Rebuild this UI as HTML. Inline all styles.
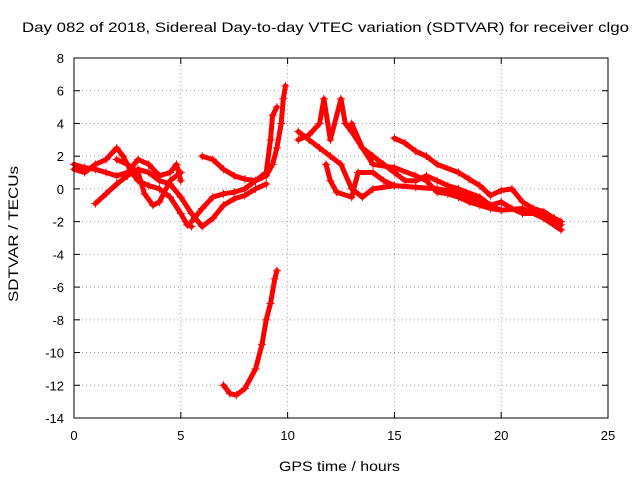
<!DOCTYPE html>
<html><head><meta charset="utf-8"><style>
body{margin:0;background:#fff}
svg{font-family:"Liberation Sans",Arial,sans-serif;}
</style></head><body>
<svg id="chart" width="640" height="480" viewBox="0 0 640 480" xmlns="http://www.w3.org/2000/svg">
<text x="22" y="32" font-size="14" textLength="607" lengthAdjust="spacingAndGlyphs">Day 082 of 2018, Sidereal Day-to-day VTEC variation (SDTVAR) for receiver clgo</text>
<text x="279" y="471" font-size="14" textLength="121" lengthAdjust="spacingAndGlyphs">GPS time / hours</text>
<text transform="translate(18,302) rotate(-90)" font-size="14" textLength="136" lengthAdjust="spacingAndGlyphs">SDTVAR / TECUs</text>
<g id="grid"></g>
<g id="ticks"></g>
<g id="series"></g>
<rect x="74" y="58" width="534" height="360" fill="none" stroke="#000" stroke-width="1"/>
</svg>
<script>
const xTicks=[0,5,10,15,20,25];
const yTicks=[8,6,4,2,0,-2,-4,-6,-8,-10,-12,-14];
const trackA=[[0,1.2],[0.5,1.0],[1,1.5],[1.5,1.8],[2,2.5],[2.3,2.0],[2.7,1.0],[3,0.5],[3.5,0.2],[4,0.0],[4.5,-0.5],[5,-1.5],[5.3,-2.2],[5.5,-2.3]];
const trackB=[[0,1.5],[0.5,1.3],[1,1.2],[1.5,1.0],[2,0.8],[2.5,1.0],[3,1.8],[3.5,1.5],[4,0.8],[4.5,1.0],[4.8,1.5],[5,0.5]];
const trackC=[[1,-0.9],[1.5,-0.3],[2,0.3],[2.5,0.8],[3,1.2],[3.5,1.0],[4,0.5],[4.5,0.3],[5,-0.5],[5.5,-1.5],[6,-2.3],[6.5,-1.8],[7,-1.0],[7.5,-0.6],[8,-0.4],[8.5,0.0],[9,0.3]];
const trackD=[[2,1.8],[2.5,1.5],[3,1.0],[3.3,-0.3],[3.7,-1.0],[4,-0.8],[4.5,0.5],[5,1.0]];
const trackE=[[5.5,-2.0],[6,-1.2],[6.5,-0.5],[7,-0.3],[7.5,-0.2],[8,0.0],[8.5,0.5],[9,0.8],[9.3,1.5],[9.5,2.5],[9.7,4.0],[9.8,5.5],[9.9,6.3]];
const trackF=[[6,2.0],[6.5,1.8],[7,1.2],[7.5,0.8],[8,0.6],[8.5,0.5],[9,1.0],[9.2,3.0],[9.3,4.5],[9.5,5.0]];
const trackG=[[7,-12.0],[7.3,-12.5],[7.6,-12.6],[8,-12.2],[8.5,-11.0],[8.8,-9.5],[9,-8],[9.2,-7],[9.4,-5.5],[9.5,-5.0]];
const trackH=[[10.5,3.5],[11,3.0],[11.5,2.5],[12,2.0],[12.5,1.5],[13,0.0],[13.5,-0.5],[14,0.0],[15,0.2],[16,0.1],[17,0.0],[18,-0.2],[19,-0.8],[20,-1.3],[21,-1.2],[22,-1.8],[22.8,-2.5]];
const trackI=[[10.5,3.0],[11,3.3],[11.5,4.0],[11.7,5.5],[12,3.0],[12.5,5.5],[12.7,4.0],[13,3.5],[13.5,2.5],[14,2.0],[14.5,1.5],[15,1.0],[15.5,0.5],[16,0.5],[16.5,0.8],[17,0.5],[17.5,0.2],[18,0.0],[19,-0.5],[19.5,-1.0],[20,-0.8],[20.5,-1.2],[21,-1.5],[22,-1.5],[22.8,-2.2]];
const trackJ=[[11.8,1.5],[12,0.5],[12.3,-0.2],[13,-0.5],[13.3,1.0],[14,1.0],[14.5,0.5],[15,0.2]];
const trackK=[[15,3.1],[15.5,2.8],[16,2.3],[16.5,2.0],[17,1.5],[18,1.0],[18.5,0.6],[19,0.2],[19.5,-0.4],[20,-0.1],[20.5,0.0],[21,-0.8],[21.5,-1.2],[22,-1.4],[22.5,-1.8],[22.8,-2.0]];
const trackL=[[13,4.0],[13.5,2.5],[14,1.5],[15,1.3],[16,0.8],[16.5,0.5],[17,-0.2],[17.5,-0.3],[18,-0.5],[18.5,-0.8],[19,-1.0],[19.5,-1.2],[20,-1.3]];
const tracks=[trackA,trackB,trackC,trackD,trackE,trackF,trackG,trackH,trackI,trackJ,trackK,trackL];

const NS="http://www.w3.org/2000/svg";
const X0=74,X1=608,Y0=418,Y1=58;
function xs(v){return X0+(v-0)/(25-0)*(X1-X0);}
function ys(v){return Y0-(v-(-14))/(8-(-14))*(Y0-Y1);}
const grid=document.getElementById('grid'),ticks=document.getElementById('ticks'),series=document.getElementById('series');
function mk(tag,attrs,parent){const e=document.createElementNS(NS,tag);for(const k in attrs)e.setAttribute(k,attrs[k]);parent.appendChild(e);return e;}
xTicks.forEach(t=>{
  const x=xs(t);
  if(t>0&&t<25){const g=mk('line',{x1:x,x2:x,y1:Y0,y2:Y1,stroke:'#a0a0a0','stroke-dasharray':'1,3'},grid);
  
  }
  mk('line',{x1:x,x2:x,y1:Y0,y2:Y0-6,stroke:'#000'},ticks);
  mk('line',{x1:x,x2:x,y1:Y1,y2:Y1+6,stroke:'#000'},ticks);
  const l=mk('text',{x:x,y:Y0+22,'font-size':'13','text-anchor':'middle'},ticks);
  l.textContent=t;
  
  
});
yTicks.forEach(t=>{
  const y=ys(t);
  if(t>-14&&t<8){const g=mk('line',{x1:X0,x2:X1,y1:y,y2:y,stroke:'#a0a0a0','stroke-dasharray':'1,3'},grid);
  
  }
  mk('line',{x1:X0,x2:X0+6,y1:y,y2:y,stroke:'#000'},ticks);
  mk('line',{x1:X1,x2:X1-6,y1:y,y2:y,stroke:'#000'},ticks);
  const l=mk('text',{x:X0-10,y:y+5,'font-size':'13','text-anchor':'end'},ticks);
  l.textContent=t;
  
  
});
tracks.forEach(tr=>{
  const pts=tr.map(p=>xs(p[0]).toFixed(1)+','+ys(p[1]).toFixed(1)).join(' ');
  const pl=mk('polyline',{points:pts,fill:'none',stroke:'#ff0000','stroke-width':'5','stroke-linejoin':'round','stroke-linecap':'round'},series);
  
  
  tr.forEach(p=>{
    const x=xs(p[0]),y=ys(p[1]);
    const m=mk('path',{d:`M${x-4},${y}h8M${x},${y-4}v8`,stroke:'#ff0000','stroke-width':'1'},series);
    
    
  });
});
</script>
</body></html>
